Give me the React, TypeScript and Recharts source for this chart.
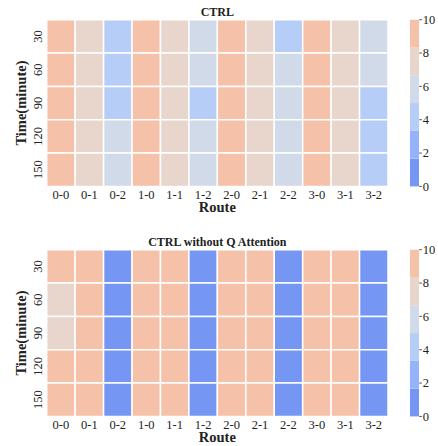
import { ComposedChart, BarChart, Bar, Scatter, XAxis, YAxis, ReferenceArea, Label } from 'recharts'

const ROUTES = ['0-0', '0-1', '0-2', '1-0', '1-1', '1-2', '2-0', '2-1', '2-2', '3-0', '3-1', '3-2']
const TIMES = ['30', '60', '90', '120', '150']

// rows = time step, columns = route
const CTRL = [
  [10, 8, 4, 10, 8, 6, 10, 8, 4, 10, 8, 6],
  [10, 8, 4, 10, 8, 6, 10, 8, 6, 10, 8, 6],
  [10, 8, 4, 10, 8, 4, 10, 8, 6, 10, 8, 4],
  [10, 8, 6, 10, 8, 6, 10, 8, 6, 10, 8, 4],
  [10, 8, 6, 10, 8, 6, 10, 8, 6, 10, 8, 4],
]

const CTRL_NO_Q = [
  [10, 10, 0, 10, 10, 0, 10, 10, 0, 10, 10, 0],
  [8, 10, 0, 10, 10, 0, 10, 10, 0, 10, 10, 0],
  [8, 10, 0, 10, 10, 0, 10, 10, 0, 10, 10, 0],
  [10, 10, 0, 10, 10, 0, 10, 10, 0, 10, 10, 0],
  [10, 10, 0, 10, 10, 0, 10, 10, 0, 10, 10, 0],
]

const BIN_EDGES = [0, 1.667, 3.333, 5, 6.667, 8.333, 10]
const BIN_COLORS = ['#7597f3', '#95b3fa', '#b6cdf8', '#d1dae8', '#e8d6cd', '#f5c2a9']
const CBAR_TICKS = [0, 2, 4, 6, 8, 10]

const SERIF = '"Liberation Serif", "Times New Roman", serif'
const INK = '#222'

const PLOT_LEFT = 46.7
const PLOT_W = 341.3
const PLOT_H = 166.7
const CHART_H = 220

function colorOf(v: number) {
  for (let i = 0; i < BIN_COLORS.length; i++) {
    if (v < BIN_EDGES[i + 1]) return BIN_COLORS[i]
  }
  return BIN_COLORS[BIN_COLORS.length - 1]
}

// eslint-disable-next-line @typescript-eslint/no-explicit-any
function XTick({ x, y, payload }: any) {
  return (
    <text x={x} y={y + 12.5} textAnchor="middle" fontFamily={SERIF} fontSize={12.5} fill={INK}>
      {ROUTES[Math.floor(payload.value)]}
    </text>
  )
}

// eslint-disable-next-line @typescript-eslint/no-explicit-any
function YTick({ x, y, payload }: any) {
  return (
    <text x={x} y={y} transform={`rotate(-90 ${x} ${y})`} textAnchor="middle"
      fontFamily={SERIF} fontSize={12.5} fill={INK}>
      {TIMES[Math.floor(payload.value)]}
    </text>
  )
}

function Heatmap({ title, values, top }: { title: string; values: number[][]; top: number }) {
  const cells = values.flatMap((row, r) => row.map((v, c) => ({ x: c + 0.5, y: r + 0.5, c, r, v })))
  const plotTop = 19.7
  return (
    <>
      <div style={{
        position: 'absolute', left: PLOT_LEFT, top: top + plotTop - 14.2, width: PLOT_W,
        textAlign: 'center', fontFamily: SERIF, fontWeight: 'bold', fontSize: 12,
        lineHeight: '12px', color: INK,
      }}>
        {title}
      </div>
      <div style={{ position: 'absolute', left: 0, top }}>
        <ComposedChart
          width={PLOT_LEFT + PLOT_W + 12}
          height={CHART_H}
          data={cells}
          margin={{ top: plotTop, right: 12, bottom: 0, left: 0 }}
        >
          <XAxis
            type="number" dataKey="x" domain={[0, ROUTES.length]}
            ticks={ROUTES.map((_, i) => i + 0.5)} interval={0}
            axisLine={false} tickLine={false} tickSize={0} tickMargin={0}
            height={CHART_H - plotTop - PLOT_H} tick={<XTick />}
          >
            <Label content={({ viewBox }: any) => (
              <text x={viewBox.x + viewBox.width / 2} y={viewBox.y + 26} textAnchor="middle"
                fontFamily={SERIF} fontWeight="bold" fontSize={14.5} fill={INK}>
                Route
              </text>
            )} />
          </XAxis>
          <YAxis
            type="number" dataKey="y" domain={[0, TIMES.length]} reversed
            ticks={TIMES.map((_, i) => i + 0.5)} interval={0}
            axisLine={false} tickLine={false} tickSize={0} tickMargin={5}
            width={PLOT_LEFT} tick={<YTick />}
          >
            <Label content={({ viewBox }: any) => {
              const cx = viewBox.x + 26.5
              const cy = viewBox.y + viewBox.height / 2
              return (
                <text x={cx} y={cy} transform={`rotate(-90 ${cx} ${cy})`} textAnchor="middle"
                  fontFamily={SERIF} fontWeight="bold" fontSize={14.5} fill={INK}>
                  Time(minute)
                </text>
              )
            }} />
          </YAxis>
          {cells.map((d) => (
            <ReferenceArea
              key={`${d.r}-${d.c}`}
              x1={d.c} x2={d.c + 1} y1={d.r} y2={d.r + 1}
              fill={colorOf(d.v)} fillOpacity={1}
              stroke="#fff" strokeWidth={1.5}
            />
          ))}
          <Scatter dataKey="y" isAnimationActive={false} shape={() => <g />} />
        </ComposedChart>
      </div>
      <ColorBar top={top} plotTop={plotTop} />
    </>
  )
}

function ColorBar({ top, plotTop }: { top: number; plotTop: number }) {
  const row: Record<string, number | string> = { name: 'bar' }
  BIN_COLORS.forEach((_, i) => { row[`b${i}`] = BIN_EDGES[i + 1] - BIN_EDGES[i] })
  const barW = 9.3
  const axisW = 26
  return (
    <div style={{ position: 'absolute', left: 410, top }}>
      <BarChart
        width={barW + axisW}
        height={CHART_H}
        data={[row]}
        margin={{ top: plotTop, right: 0, bottom: CHART_H - plotTop - PLOT_H, left: 0 }}
        barCategoryGap={0}
        barGap={0}
      >
        <XAxis dataKey="name" hide />
        <YAxis
          orientation="right" type="number" domain={[0, 10]} ticks={CBAR_TICKS} interval={0}
          axisLine={false} tickLine={{ stroke: '#444' }} tickSize={2.5} tickMargin={1}
          width={axisW}
          tick={{ fontFamily: SERIF, fontSize: 12.5, fill: INK }}
        />
        {BIN_COLORS.map((col, i) => (
          <Bar key={i} dataKey={`b${i}`} stackId="cb" fill={col} isAnimationActive={false} />
        ))}
      </BarChart>
    </div>
  )
}

export default function App() {
  return (
    <div style={{ position: 'absolute', left: 0, top: 0, width: 438, height: 446, background: '#fff' }}>
      <Heatmap title="CTRL" values={CTRL} top={0} />
      <Heatmap title="CTRL without Q Attention" values={CTRL_NO_Q} top={230.3} />
    </div>
  )
}
